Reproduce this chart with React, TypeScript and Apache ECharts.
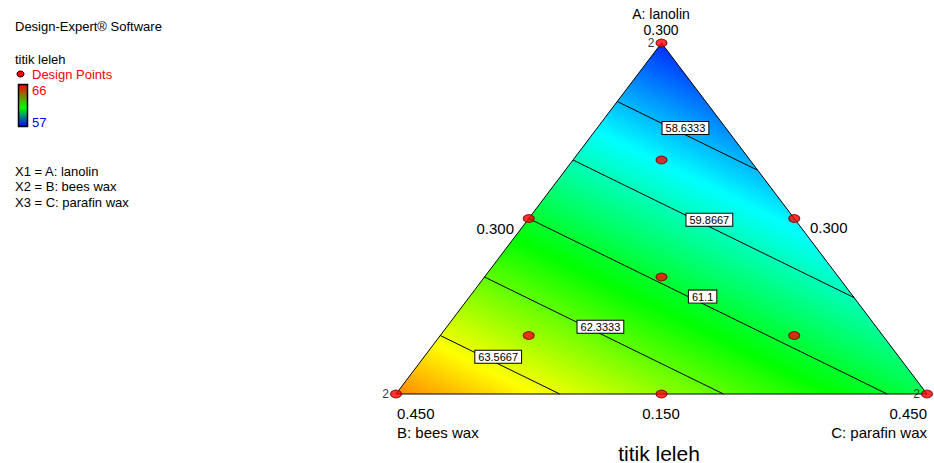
import React, { useEffect, useRef } from "react";
import * as echarts from "echarts";

// ---- data ----
const componentNames = ["A: lanolin", "B: bees wax", "C: parafin wax"];
const lowerBounds = [0, 0.15, 0.15];
const pseudoRange = 0.3;
const vertexTickLabels = ["0.300", "0.450", "0.450"]; // A, B, C vertices
const edgeTickLabels = ["0.300", "0.300", "0.150"]; // A-B edge, A-C edge, B-C edge

const lanolin = [0.3, 0.15, 0.15, 0, 0, 0, 0.1, 0.2, 0.05, 0.05];
const beesWax = [0.15, 0.3, 0.15, 0.45, 0.15, 0.3, 0.25, 0.2, 0.35, 0.2];
const parafinWax = [0.15, 0.15, 0.3, 0.15, 0.45, 0.3, 0.25, 0.2, 0.2, 0.35];
const replicates = [2, 1, 1, 2, 2, 1, 1, 1, 1, 1];

const vertexResponse = [57.4, 64.8, 60.8]; // fitted titik leleh at A, B, C vertices
const contourLevels = [58.6333, 59.8667, 61.1, 62.3333, 63.5667];
const colorRange = [57, 66];
const legendLines = ["X1 = A: lanolin", "X2 = B: bees wax", "X3 = C: parafin wax"];

const FONT = "'Liberation Sans', Arial, sans-serif";

function toXY(a: number, b: number, c: number): [number, number] {
  const pa = (a - lowerBounds[0]) / pseudoRange;
  const pc = (c - lowerBounds[2]) / pseudoRange;
  return [pc + pa / 2, pa];
}

const vertsXY: [number, number][] = [
  [0.5, 1],
  [0, 0],
  [1, 0],
];

function txt(x: number, y: number, text: string, size: number, color: string, align = "left", extra: any = {}) {
  return {
    type: "text",
    x,
    y,
    z: 50,
    style: {
      text,
      fill: color,
      fontSize: size,
      fontFamily: FONT,
      align,
      textAlign: align,
      verticalAlign: "middle",
      textVerticalAlign: "middle",
      ...extra,
    },
  };
}

export default function App() {
  const ref = useRef<HTMLDivElement>(null);
  useEffect(() => {
    if (!ref.current) return;
    const chart = echarts.init(ref.current, null, { renderer: "svg" });

    const points = lanolin.map((a, i) => {
      const [x, y] = toXY(a, beesWax[i], parafinWax[i]);
      return [x, y, replicates[i]];
    });

    const option: any = {
      animation: false,
      grid: { left: 396, right: 7, top: 43, bottom: 69 },
      xAxis: { type: "value", min: 0, max: 1, show: false },
      yAxis: { type: "value", min: 0, max: 1, show: false },
      series: [
        {
          type: "custom",
          z: 1,
          clip: false,
          data: [[0]],
          renderItem: (_p: any, api: any) => {
            const pA = api.coord(vertsXY[0]);
            const pB = api.coord(vertsXY[1]);
            const pC = api.coord(vertsXY[2]);
            const [vA, vB, vC] = vertexResponse;
            const u = [pB[0] - pA[0], pB[1] - pA[1]];
            const w = [pC[0] - pA[0], pC[1] - pA[1]];
            const dvB = vB - vA;
            const dvC = vC - vA;
            const det = u[0] * w[1] - u[1] * w[0];
            const gx = (dvB * w[1] - u[1] * dvC) / det;
            const gy = (u[0] * dvC - dvB * w[0]) / det;
            const g2 = gx * gx + gy * gy;
            const s0 = (colorRange[0] - vA) / g2;
            const s1 = (colorRange[1] - vA) / g2;
            const grad = new echarts.graphic.LinearGradient(
              pA[0] + gx * s0,
              pA[1] + gy * s0,
              pA[0] + gx * s1,
              pA[1] + gy * s1,
              [
                { offset: 0, color: "#0000ff" },
                { offset: 0.25, color: "#00ffff" },
                { offset: 0.5, color: "#00ff00" },
                { offset: 0.75, color: "#ffff00" },
                { offset: 1, color: "#ff0000" },
              ],
              true
            );
            return {
              type: "polygon",
              shape: { points: [pA, pB, pC] },
              style: { fill: grad, stroke: "#000", lineWidth: 1 },
            };
          },
        },
        {
          type: "custom",
          z: 2,
          clip: false,
          data: contourLevels.map((l) => [l]),
          renderItem: (_p: any, api: any) => {
            const level = api.value(0);
            const edges = [
              [0, 1],
              [0, 2],
              [1, 2],
            ];
            const pts: number[][] = [];
            for (const [i, j] of edges) {
              const vi = vertexResponse[i];
              const vj = vertexResponse[j];
              if (vi !== vj && (level - vi) * (level - vj) <= 0) {
                const t = (level - vi) / (vj - vi);
                pts.push([
                  vertsXY[i][0] + t * (vertsXY[j][0] - vertsXY[i][0]),
                  vertsXY[i][1] + t * (vertsXY[j][1] - vertsXY[i][1]),
                ]);
              }
            }
            if (pts.length < 2) return null;
            const px = pts.slice(0, 2).map((p) => api.coord(p)).sort((a: number[], b: number[]) => a[0] - b[0]);
            const [p0, p1] = px;
            const f = 0.485;
            const lx = p0[0] + f * (p1[0] - p0[0]);
            const ly = p0[1] + f * (p1[1] - p0[1]) - 7;
            return {
              type: "group",
              children: [
                {
                  type: "line",
                  shape: { x1: p0[0], y1: p0[1], x2: p1[0], y2: p1[1] },
                  style: { stroke: "#000", lineWidth: 1 },
                },
                {
                  type: "text",
                  x: lx,
                  y: ly,
                  style: {
                    text: String(level),
                    fill: "#000",
                    fontSize: 11,
                    fontFamily: FONT,
                    align: "center",
                    textAlign: "center",
                    verticalAlign: "middle",
                    textVerticalAlign: "middle",
                    backgroundColor: "#fff",
                    borderColor: "#000",
                    borderWidth: 1,
                    padding: [1, 3, 0, 3],
                  },
                },
              ],
            };
          },
        },
        {
          type: "scatter",
          z: 3,
          clip: false,
          symbol: "circle",
          symbolSize: [11, 8],
          itemStyle: { color: "#ff0000", borderColor: "#700000", borderWidth: 1 },
          data: points,
          label: {
            show: true,
            position: "left",
            distance: 1,
            fontSize: 12,
            fontFamily: FONT,
            color: "#000",
            formatter: (p: any) => (p.value[2] > 1 ? String(p.value[2]) : ""),
          },
        },
      ],
      graphic: [
        txt(15, 26, "Design-Expert® Software", 13, "#000"),
        txt(15, 59, "titik leleh", 13, "#000"),
        { type: "ellipse", z: 50, shape: { cx: 20.5, cy: 74, rx: 3.5, ry: 3 }, style: { fill: "#ff0000", stroke: "#000", lineWidth: 1 } },
        txt(32, 74, "Design Points", 13, "#ff0000"),
        {
          type: "rect",
          z: 50,
          shape: { x: 18.5, y: 84.5, width: 9, height: 42 },
          style: {
            fill: new echarts.graphic.LinearGradient(0, 0, 0, 1, [
              { offset: 0, color: "#ff0000" },
              { offset: 0.55, color: "#00ff00" },
              { offset: 1, color: "#0000ff" },
            ]),
            stroke: "#000",
            lineWidth: 1.5,
          },
        },
        txt(32, 90, "66", 13, "#ff0000"),
        txt(32, 122, "57", 13, "#0000ff"),
        txt(15, 171, legendLines[0], 13, "#000"),
        txt(15, 186, legendLines[1], 13, "#000"),
        txt(15, 202, legendLines[2], 13, "#000"),
        txt(661, 14, componentNames[0], 14, "#000", "center"),
        txt(661, 29.5, vertexTickLabels[0], 14, "#000", "center"),
        txt(397, 413, vertexTickLabels[1], 15, "#000", "left"),
        txt(397, 432, componentNames[1], 15, "#000", "left"),
        txt(927, 413, vertexTickLabels[2], 15, "#000", "right"),
        txt(927, 432, componentNames[2], 15, "#000", "right"),
        txt(514, 228, edgeTickLabels[0], 15, "#000", "right"),
        txt(810, 227, edgeTickLabels[1], 15, "#000", "left"),
        txt(661, 413, edgeTickLabels[2], 15, "#000", "center"),
        txt(659, 453, "titik leleh", 21, "#000", "center"),
      ],
    };
    chart.setOption(option);
    return () => chart.dispose();
  }, []);
  return (
    <div
      ref={ref}
      style={{ position: "absolute", left: 0, top: 0, width: 934, height: 463, background: "#fff" }}
    />
  );
}
